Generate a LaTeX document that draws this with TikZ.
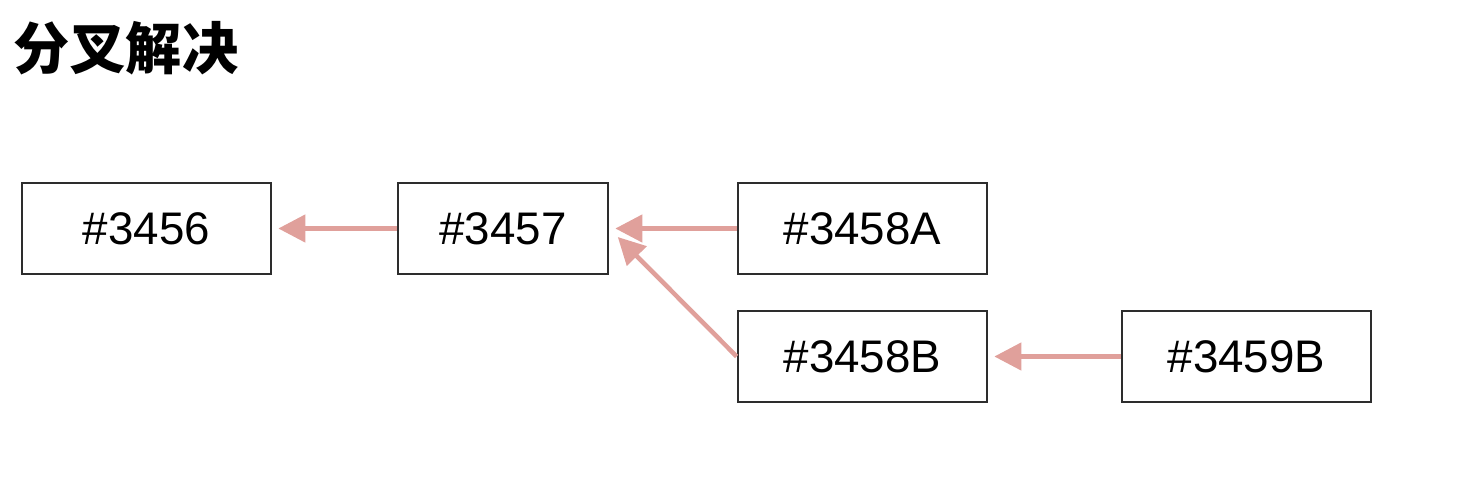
\documentclass[tikz,border=0pt]{standalone}
\usepackage{fontspec}
\setmainfont{Liberation Sans}
\newfontfamily\cjk{Noto Sans CJK SC}
\usetikzlibrary{arrows.meta,positioning}
\definecolor{linkred}{RGB}{224,160,155}
\definecolor{boxgray}{RGB}{45,45,45}
\tikzset{
  box/.style   = {rectangle, draw=boxgray, line width=1.5pt, align=center,
                  font=\fontsize{26}{30}\selectfont, minimum height=1.82cm,
                  minimum width=4.98cm, inner sep=0pt},
  flow/.style  = {-{Triangle[length=5.4mm,width=5.4mm]}, draw=linkred,
                  line width=2.6pt, shorten >=1.2mm},
}

\begin{document}
\begin{tikzpicture}
    \useasboundingbox (0,0) rectangle (29.24,-10.02);
    % title
    \node[anchor=west, inner sep=0pt, font=\cjk\bfseries\fontsize{32}{36}\selectfont]
      (title) at (0.26,-0.97) {分叉解决};
    % nodes
    \node[box] (c3456) at (2.93,-4.57) {\#3456};
    \node[box, minimum width=4.2cm] (c3457) at (10.06,-4.57) {\#3457};
    \node[box] (c3458a) at (17.25,-4.57) {\#3458A};
    \node[box] (c3458b) at (17.25,-7.13) {\#3458B};
    \node[box] (c3459b) at (24.93,-7.13) {\#3459B};
    % edges
    \draw[flow] (c3457) -- (c3456);
    \draw[flow] (c3458a) -- (c3457);
    \draw[flow, shorten >=2.4mm] (c3458b.west) -- (c3457.east);
    \draw[flow] (c3459b) -- (c3458b);
\end{tikzpicture}
\end{document}
